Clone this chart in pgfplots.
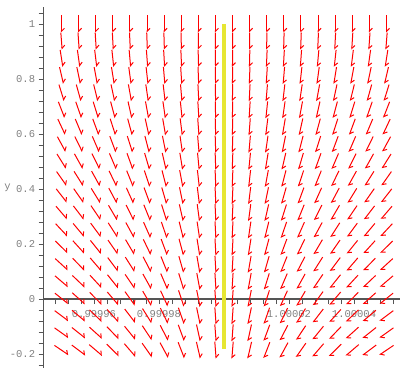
\documentclass[border=0pt]{standalone}
\usepackage{pgfplots}
\pgfplotsset{compat=1.18}
\usepackage{pgfplotstable}
\usepackage{fontspec}
\setmainfont{Liberation Mono}
\usetikzlibrary{arrows.meta}
\definecolor{axgray}{RGB}{85,85,85}
\definecolor{lblgray}{RGB}{128,128,128}
\definecolor{solyellow}{RGB}{230,230,50}
\definecolor{fieldred}{RGB}{255,0,0}

% x = (x-1)*1e5, y, t = tan of arrow angle from vertical (screen space)
\pgfplotstableread[row sep=\\]{
x y t\\
-5 1 0\\ -5 0.938 0.078\\ -5 0.875 0.156\\ -5 0.813 0.234\\ -5 0.75 0.312\\ -5 0.688 0.39\\ -5 0.626 0.468\\ -5 0.563 0.546\\ -5 0.501 0.624\\ -5 0.438 0.702\\ -5 0.376 0.78\\ -5 0.314 0.858\\ -5 0.251 0.936\\ -5 0.189 1.014\\ -5 0.126 1.092\\ -5 0.064 1.17\\ -5 0.002 1.248\\ -5 -0.061 1.326\\ -5 -0.123 1.404\\ -5 -0.186 1.482\\
-4.474 1 0\\ -4.474 0.938 0.07\\ -4.474 0.875 0.14\\ -4.474 0.813 0.209\\ -4.474 0.75 0.279\\ -4.474 0.688 0.349\\ -4.474 0.626 0.419\\ -4.474 0.563 0.489\\ -4.474 0.501 0.558\\ -4.474 0.438 0.628\\ -4.474 0.376 0.698\\ -4.474 0.314 0.768\\ -4.474 0.251 0.838\\ -4.474 0.189 0.907\\ -4.474 0.126 0.977\\ -4.474 0.064 1.047\\ -4.474 0.002 1.117\\ -4.474 -0.061 1.187\\ -4.474 -0.123 1.256\\ -4.474 -0.186 1.326\\
-3.947 1 0\\ -3.947 0.938 0.062\\ -3.947 0.875 0.123\\ -3.947 0.813 0.185\\ -3.947 0.75 0.246\\ -3.947 0.688 0.308\\ -3.947 0.626 0.37\\ -3.947 0.563 0.431\\ -3.947 0.501 0.493\\ -3.947 0.438 0.554\\ -3.947 0.376 0.616\\ -3.947 0.314 0.678\\ -3.947 0.251 0.739\\ -3.947 0.189 0.801\\ -3.947 0.126 0.862\\ -3.947 0.064 0.924\\ -3.947 0.002 0.986\\ -3.947 -0.061 1.047\\ -3.947 -0.123 1.109\\ -3.947 -0.186 1.17\\
-3.421 1 0\\ -3.421 0.938 0.053\\ -3.421 0.875 0.107\\ -3.421 0.813 0.16\\ -3.421 0.75 0.214\\ -3.421 0.688 0.267\\ -3.421 0.626 0.32\\ -3.421 0.563 0.374\\ -3.421 0.501 0.427\\ -3.421 0.438 0.481\\ -3.421 0.376 0.534\\ -3.421 0.314 0.587\\ -3.421 0.251 0.641\\ -3.421 0.189 0.694\\ -3.421 0.126 0.748\\ -3.421 0.064 0.801\\ -3.421 0.002 0.854\\ -3.421 -0.061 0.908\\ -3.421 -0.123 0.961\\ -3.421 -0.186 1.015\\
-2.895 1 0\\ -2.895 0.938 0.045\\ -2.895 0.875 0.09\\ -2.895 0.813 0.136\\ -2.895 0.75 0.181\\ -2.895 0.688 0.226\\ -2.895 0.626 0.271\\ -2.895 0.563 0.316\\ -2.895 0.501 0.362\\ -2.895 0.438 0.407\\ -2.895 0.376 0.452\\ -2.895 0.314 0.497\\ -2.895 0.251 0.542\\ -2.895 0.189 0.588\\ -2.895 0.126 0.633\\ -2.895 0.064 0.678\\ -2.895 0.002 0.723\\ -2.895 -0.061 0.768\\ -2.895 -0.123 0.814\\ -2.895 -0.186 0.859\\
-2.368 1 0\\ -2.368 0.938 0.037\\ -2.368 0.875 0.074\\ -2.368 0.813 0.111\\ -2.368 0.75 0.148\\ -2.368 0.688 0.185\\ -2.368 0.626 0.221\\ -2.368 0.563 0.258\\ -2.368 0.501 0.295\\ -2.368 0.438 0.332\\ -2.368 0.376 0.369\\ -2.368 0.314 0.406\\ -2.368 0.251 0.443\\ -2.368 0.189 0.48\\ -2.368 0.126 0.517\\ -2.368 0.064 0.554\\ -2.368 0.002 0.59\\ -2.368 -0.061 0.627\\ -2.368 -0.123 0.664\\ -2.368 -0.186 0.701\\
-1.842 1 0\\ -1.842 0.938 0.029\\ -1.842 0.875 0.057\\ -1.842 0.813 0.086\\ -1.842 0.75 0.115\\ -1.842 0.688 0.144\\ -1.842 0.626 0.172\\ -1.842 0.563 0.201\\ -1.842 0.501 0.23\\ -1.842 0.438 0.258\\ -1.842 0.376 0.287\\ -1.842 0.314 0.316\\ -1.842 0.251 0.344\\ -1.842 0.189 0.373\\ -1.842 0.126 0.402\\ -1.842 0.064 0.431\\ -1.842 0.002 0.459\\ -1.842 -0.061 0.488\\ -1.842 -0.123 0.517\\ -1.842 -0.186 0.545\\
-1.316 1 0\\ -1.316 0.938 0.021\\ -1.316 0.875 0.041\\ -1.316 0.813 0.062\\ -1.316 0.75 0.082\\ -1.316 0.688 0.103\\ -1.316 0.626 0.123\\ -1.316 0.563 0.144\\ -1.316 0.501 0.164\\ -1.316 0.438 0.185\\ -1.316 0.376 0.205\\ -1.316 0.314 0.226\\ -1.316 0.251 0.246\\ -1.316 0.189 0.267\\ -1.316 0.126 0.287\\ -1.316 0.064 0.308\\ -1.316 0.002 0.328\\ -1.316 -0.061 0.349\\ -1.316 -0.123 0.369\\ -1.316 -0.186 0.39\\
-0.789 1 0\\ -0.789 0.938 0.012\\ -0.789 0.875 0.025\\ -0.789 0.813 0.037\\ -0.789 0.75 0.049\\ -0.789 0.688 0.062\\ -0.789 0.626 0.074\\ -0.789 0.563 0.086\\ -0.789 0.501 0.098\\ -0.789 0.438 0.111\\ -0.789 0.376 0.123\\ -0.789 0.314 0.135\\ -0.789 0.251 0.148\\ -0.789 0.189 0.16\\ -0.789 0.126 0.172\\ -0.789 0.064 0.185\\ -0.789 0.002 0.197\\ -0.789 -0.061 0.209\\ -0.789 -0.123 0.221\\ -0.789 -0.186 0.234\\
-0.263 1 0\\ -0.263 0.938 0.004\\ -0.263 0.875 0.008\\ -0.263 0.813 0.012\\ -0.263 0.75 0.016\\ -0.263 0.688 0.021\\ -0.263 0.626 0.025\\ -0.263 0.563 0.029\\ -0.263 0.501 0.033\\ -0.263 0.438 0.037\\ -0.263 0.376 0.041\\ -0.263 0.314 0.045\\ -0.263 0.251 0.049\\ -0.263 0.189 0.053\\ -0.263 0.126 0.057\\ -0.263 0.064 0.062\\ -0.263 0.002 0.066\\ -0.263 -0.061 0.07\\ -0.263 -0.123 0.074\\ -0.263 -0.186 0.078\\
0.263 1 0\\ 0.263 0.938 -0.004\\ 0.263 0.875 -0.008\\ 0.263 0.813 -0.012\\ 0.263 0.75 -0.016\\ 0.263 0.688 -0.021\\ 0.263 0.626 -0.025\\ 0.263 0.563 -0.029\\ 0.263 0.501 -0.033\\ 0.263 0.438 -0.037\\ 0.263 0.376 -0.041\\ 0.263 0.314 -0.045\\ 0.263 0.251 -0.049\\ 0.263 0.189 -0.053\\ 0.263 0.126 -0.057\\ 0.263 0.064 -0.062\\ 0.263 0.002 -0.066\\ 0.263 -0.061 -0.07\\ 0.263 -0.123 -0.074\\ 0.263 -0.186 -0.078\\
0.789 1 0\\ 0.789 0.938 -0.012\\ 0.789 0.875 -0.025\\ 0.789 0.813 -0.037\\ 0.789 0.75 -0.049\\ 0.789 0.688 -0.062\\ 0.789 0.626 -0.074\\ 0.789 0.563 -0.086\\ 0.789 0.501 -0.098\\ 0.789 0.438 -0.111\\ 0.789 0.376 -0.123\\ 0.789 0.314 -0.135\\ 0.789 0.251 -0.148\\ 0.789 0.189 -0.16\\ 0.789 0.126 -0.172\\ 0.789 0.064 -0.185\\ 0.789 0.002 -0.197\\ 0.789 -0.061 -0.209\\ 0.789 -0.123 -0.221\\ 0.789 -0.186 -0.234\\
1.316 1 0\\ 1.316 0.938 -0.021\\ 1.316 0.875 -0.041\\ 1.316 0.813 -0.062\\ 1.316 0.75 -0.082\\ 1.316 0.688 -0.103\\ 1.316 0.626 -0.123\\ 1.316 0.563 -0.144\\ 1.316 0.501 -0.164\\ 1.316 0.438 -0.185\\ 1.316 0.376 -0.205\\ 1.316 0.314 -0.226\\ 1.316 0.251 -0.246\\ 1.316 0.189 -0.267\\ 1.316 0.126 -0.287\\ 1.316 0.064 -0.308\\ 1.316 0.002 -0.328\\ 1.316 -0.061 -0.349\\ 1.316 -0.123 -0.369\\ 1.316 -0.186 -0.39\\
1.842 1 0\\ 1.842 0.938 -0.029\\ 1.842 0.875 -0.057\\ 1.842 0.813 -0.086\\ 1.842 0.75 -0.115\\ 1.842 0.688 -0.144\\ 1.842 0.626 -0.172\\ 1.842 0.563 -0.201\\ 1.842 0.501 -0.23\\ 1.842 0.438 -0.258\\ 1.842 0.376 -0.287\\ 1.842 0.314 -0.316\\ 1.842 0.251 -0.344\\ 1.842 0.189 -0.373\\ 1.842 0.126 -0.402\\ 1.842 0.064 -0.431\\ 1.842 0.002 -0.459\\ 1.842 -0.061 -0.488\\ 1.842 -0.123 -0.517\\ 1.842 -0.186 -0.545\\
2.368 1 0\\ 2.368 0.938 -0.037\\ 2.368 0.875 -0.074\\ 2.368 0.813 -0.111\\ 2.368 0.75 -0.148\\ 2.368 0.688 -0.185\\ 2.368 0.626 -0.221\\ 2.368 0.563 -0.258\\ 2.368 0.501 -0.295\\ 2.368 0.438 -0.332\\ 2.368 0.376 -0.369\\ 2.368 0.314 -0.406\\ 2.368 0.251 -0.443\\ 2.368 0.189 -0.48\\ 2.368 0.126 -0.517\\ 2.368 0.064 -0.554\\ 2.368 0.002 -0.59\\ 2.368 -0.061 -0.627\\ 2.368 -0.123 -0.664\\ 2.368 -0.186 -0.701\\
2.895 1 0\\ 2.895 0.938 -0.045\\ 2.895 0.875 -0.09\\ 2.895 0.813 -0.136\\ 2.895 0.75 -0.181\\ 2.895 0.688 -0.226\\ 2.895 0.626 -0.271\\ 2.895 0.563 -0.316\\ 2.895 0.501 -0.362\\ 2.895 0.438 -0.407\\ 2.895 0.376 -0.452\\ 2.895 0.314 -0.497\\ 2.895 0.251 -0.542\\ 2.895 0.189 -0.588\\ 2.895 0.126 -0.633\\ 2.895 0.064 -0.678\\ 2.895 0.002 -0.723\\ 2.895 -0.061 -0.768\\ 2.895 -0.123 -0.814\\ 2.895 -0.186 -0.859\\
3.421 1 0\\ 3.421 0.938 -0.053\\ 3.421 0.875 -0.107\\ 3.421 0.813 -0.16\\ 3.421 0.75 -0.214\\ 3.421 0.688 -0.267\\ 3.421 0.626 -0.32\\ 3.421 0.563 -0.374\\ 3.421 0.501 -0.427\\ 3.421 0.438 -0.481\\ 3.421 0.376 -0.534\\ 3.421 0.314 -0.587\\ 3.421 0.251 -0.641\\ 3.421 0.189 -0.694\\ 3.421 0.126 -0.748\\ 3.421 0.064 -0.801\\ 3.421 0.002 -0.854\\ 3.421 -0.061 -0.908\\ 3.421 -0.123 -0.961\\ 3.421 -0.186 -1.015\\
3.947 1 0\\ 3.947 0.938 -0.062\\ 3.947 0.875 -0.123\\ 3.947 0.813 -0.185\\ 3.947 0.75 -0.246\\ 3.947 0.688 -0.308\\ 3.947 0.626 -0.37\\ 3.947 0.563 -0.431\\ 3.947 0.501 -0.493\\ 3.947 0.438 -0.554\\ 3.947 0.376 -0.616\\ 3.947 0.314 -0.678\\ 3.947 0.251 -0.739\\ 3.947 0.189 -0.801\\ 3.947 0.126 -0.862\\ 3.947 0.064 -0.924\\ 3.947 0.002 -0.986\\ 3.947 -0.061 -1.047\\ 3.947 -0.123 -1.109\\ 3.947 -0.186 -1.17\\
4.474 1 0\\ 4.474 0.938 -0.07\\ 4.474 0.875 -0.14\\ 4.474 0.813 -0.209\\ 4.474 0.75 -0.279\\ 4.474 0.688 -0.349\\ 4.474 0.626 -0.419\\ 4.474 0.563 -0.489\\ 4.474 0.501 -0.558\\ 4.474 0.438 -0.628\\ 4.474 0.376 -0.698\\ 4.474 0.314 -0.768\\ 4.474 0.251 -0.838\\ 4.474 0.189 -0.907\\ 4.474 0.126 -0.977\\ 4.474 0.064 -1.047\\ 4.474 0.002 -1.117\\ 4.474 -0.061 -1.187\\ 4.474 -0.123 -1.256\\ 4.474 -0.186 -1.326\\
5 1 0\\ 5 0.938 -0.078\\ 5 0.875 -0.156\\ 5 0.813 -0.234\\ 5 0.75 -0.312\\ 5 0.688 -0.39\\ 5 0.626 -0.468\\ 5 0.563 -0.546\\ 5 0.501 -0.624\\ 5 0.438 -0.702\\ 5 0.376 -0.78\\ 5 0.314 -0.858\\ 5 0.251 -0.936\\ 5 0.189 -1.014\\ 5 0.126 -1.092\\ 5 0.064 -1.17\\ 5 0.002 -1.248\\ 5 -0.061 -1.326\\ 5 -0.123 -1.404\\ 5 -0.186 -1.482\\
}\field

\begin{document}
\begin{tikzpicture}
\useasboundingbox (0,0) rectangle (401pt,367pt);
\begin{axis}[
  at={(43.6pt,-0.75pt)}, anchor=south west,
  scale only axis, width=355.9pt, height=360.25pt,
  xmin=-5.55, xmax=5.4, ymin=-0.25, ymax=1.06,
  axis x line=middle, axis y line=left,
  axis line style={-, draw=axgray},
  x axis line style={line width=1.8pt},
  y axis line style={line width=1.2pt},
  xtick={-4,-2,2,4},
  xticklabels={0.99996,0.99998,1.00002,1.00004},
  minor xtick={-5.2,-4.8,-4.4,-3.6,-3.2,-2.8,-2.4,-1.6,-1.2,-0.8,-0.4,0,0.4,0.8,1.2,1.6,2.4,2.8,3.2,3.6,4.4,4.8,5.2},
  ytick={-0.2,0,0.2,0.4,0.6,0.8,1},
  yticklabels={-0.2,0,0.2,0.4,0.6,0.8,1},
  minor ytick={-0.24,-0.16,-0.12,-0.08,-0.04,0.04,0.08,0.12,0.16,0.24,0.28,0.32,0.36,0.44,0.48,0.52,0.56,0.64,0.68,0.72,0.76,0.84,0.88,0.92,0.96,1.04},
  tick align=outside,
  major tick length=5pt, minor tick length=5pt,
  tick style={draw=axgray, line width=0.9pt},
  ticklabel style={font=\fontsize{10.5}{12}\selectfont, text=lblgray},
  xticklabel style={yshift=-3pt},
  ylabel={y},
  every axis y label/.style={at={(axis description cs:0,0.5)}, anchor=center, xshift=-36pt, font=\fontsize{10.5}{12}\selectfont, text=lblgray},
  clip=false,
]
\addplot[color=fieldred, line width=1pt, -{Straight Barb[harpoon,length=3pt,width=6pt]},
  quiver={u={0.5231*\thisrow{t}/sqrt(1+\thisrow{t}*\thisrow{t})}, v={-0.06182/sqrt(1+\thisrow{t}*\thisrow{t})},
    every arrow/.append style={draw=fieldred}}]
  table[x expr={\thisrow{x}-0.26155*\thisrow{t}/sqrt(1+\thisrow{t}*\thisrow{t})}, y expr={\thisrow{y}+0.03091/sqrt(1+\thisrow{t}*\thisrow{t})}] {\field};
\addplot[draw=solyellow, line width=4pt] coordinates {(0,1.0) (0,-0.18)};
\end{axis}
\end{tikzpicture}
\end{document}
